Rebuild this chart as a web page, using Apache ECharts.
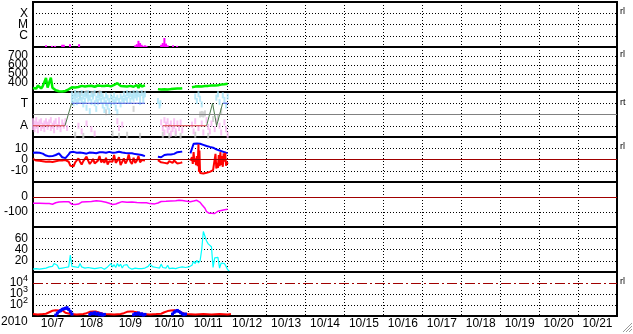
<!DOCTYPE html>
<html>
<head>
<meta charset="utf-8">
<script src="https://cdn.jsdelivr.net/npm/echarts@6/dist/echarts.min.js"></script>
<style>
  html, body { margin: 0; padding: 0; background: #fff; }
  #main { width: 633px; height: 334px; }
</style>
</head>
<body>
<div id="main"></div>
<script>
// x axis: hours since 2010-10-07 00:00, 15 days shown
var days = ['10/7', '10/8', '10/9', '10/10', '10/11', '10/12', '10/13', '10/14',
  '10/15', '10/16', '10/17', '10/18', '10/19', '10/20', '10/21'];

// X-ray flares (C / M / X class levels)
var flareT = [8, 11.7, 13.6, 18, 19, 22.8, 28.4, 63, 64, 65, 66, 67, 68, 69, 70, 79, 80, 81, 82, 83, 86.3, 88.8];
var flareV = [0.15, 0.1, 0.1, 0.2, 0.2, 0.25, 0.25, 0.15, 0.25, 0.55, 0.35, 0.2, 0.1, 0.15, 0.1, 0.2, 0.35, 0.8, 0.3, 0.15, 0.15, 0.1];

// solar wind speed, hourly from hour 0
var speed = [345, 360, 338, 372, 350, 340, 365, 345, 455, 350, 340, 460, 348, 335, 320, 312, 308, 310, 306, 308,
  312, 318, 330, 340, 352, 358, 350, 362, 355, 360, 368, 358, 362, 355, 366, 360, 370, 362, 358, 366,
  372, 364, 368, 375, 366, 360, 372, 368, 362, 370, 378, 370, 398, 380, 368, 372, 365, 370, 362, 375,
  368, 372, 358, 340, 378, 345, 385, 360, 380, 375, null, null, null, null, null, null, null, 332, 325, 328,
  322, 330, 325, 328, 322, 332, 328, 335, 330, 338, 335, 340, 342, null, null, null, null, null, 352, 358,
  360, 355, 364, 368, 362, 360, 366, 370, 368, 365, 372, 375, 372, 378, 376, 380, 382, 378, 385, 388, 392];

// IMF sector: A = -1, T = +1
var sectA = [[0, -1], [19.7, -1], [19.8, null], [80, -1], [107, -1]];
var sectT = [[23.8, 1], [69, 1], [69.1, null], [116.9, 1], [120.4, 1]];
var sectX = [[19.7, -1], [23.8, 1], [24, null], [107, -1], [110.7, 1], [113.2, -1], [116.9, 1]];
var sectBlue = [[24, 1.8], [24, 1.3], [25, 1.6], [25, 1.0], [26, 1.9], [26, 1.4], [27, 1.7], [27, 1.1], [28, 1.8], [28, 1.2],
  [29, 1.5], [30, 1.9], [30, 1.3], [31, 1.6], [31, 0.9], [32, 1.8], [32, 1.2], [33, 1.7], [33, 0.6], [34, 1.9], [34, 1.4],
  [35, 1.5], [35, 0.3], [36, 1.8], [36, 1.1], [37, 1.6], [38, 1.9], [38, 1.0], [39, 1.4], [39, 0.5], [40, 1.7], [40, 1.1],
  [41, 1.5], [42, 1.8], [42, 1.2], [43, 1.6], [43, 0.8], [44, 1.3], [44, 0.4], [45, 1.7], [45, 1.0], [46, 1.5], [46, 0.7],
  [47, 1.2], [47, 0.3], [48, 1.6], [48, 0.9], [49, 1.4], [50, 1.7], [50, 1.1], [51, 1.3], [51, 0.6], [52, 1.5], [52, 0.2],
  [53, 1.2], [54, 1.6], [54, 0.9], [55, 1.4], [56, 1.8], [56, 1.2], [57, 1.5], [58, 1.9], [58, 1.3], [59, 1.7], [60, 1.8],
  [60, 1.2], [61, 1.6], [62, 1.9], [62, 1.4], [63, 1.7], [64, 1.9], [64, 1.5], [65, 1.8], [66, 1.6], [66, 1.1], [67, 1.9],
  [68, 1.7], [68, 1.3], [69, 1.8], [77, 1.2], [78, 0.8], [78.5, 1.0], [100, 1.6], [101, 1.2], [102, 1.8], [103, 1.4],
  [104, 0.9], [113, 1.5], [114, 1.8], [115, 1.1], [117, 1.7], [118, 1.3], [119, 0.8], [120, 1.6]];
var sectPink = [[0, -0.6], [0, -1.1], [1, -0.8], [1, -1.3], [2, -0.5], [2, -1.0], [3, -0.9], [3, -1.4], [4, -0.7], [5, -1.2],
  [5, -0.6], [6, -1.0], [7, -0.8], [7, -1.3], [8, -0.6], [9, -1.1], [9, -0.9], [10, -0.7], [11, -1.2], [11, -0.5], [12, -1.0],
  [13, -0.8], [13, -1.4], [14, -0.6], [15, -1.1], [16, -0.9], [16, -0.5], [17, -1.3], [18, -0.7], [19, -1.0], [20, -0.6],
  [21, -1.2], [28, -1.0], [30, -1.5], [33, -0.8], [36, -1.3], [38, -1.7], [52, -0.6], [53, -1.2], [55, -0.9], [79, -0.7],
  [80, -1.2], [81, -0.5], [81, -1.6], [82, -0.9], [83, -1.4], [83, -0.6], [84, -1.1], [85, -1.7], [85, -0.8], [86, -1.3],
  [87, -0.6], [87, -1.0], [88, -1.5], [89, -0.8], [90, -1.2], [91, -0.7], [92, -1.4], [98, -0.9], [99, -1.5], [100, -0.6],
  [102, -1.2], [104, -0.8], [105, -1.6], [107, -0.5], [108, -1.1], [109, -1.5], [110, -0.8], [112, -1.3], [113, -0.6],
  [115, -1.0], [116, -1.6], [118, -0.7], [119, -1.3], [120, -1.8]];
var sectGray = [[26, 1.9], [29, 1.7], [33, 1.9], [37, 1.8], [41, 1.9], [26, -1.8], [31, -1.9], [45, 0.2], [49, -1.7], [53, -1.9],
  [58, -1.8], [62, 0.5], [66, -1.9], [80, -1.8], [84, -1.9], [88, -1.7], [91, -1.9], [103, 0.0], [104, 0.05], [105, 0.0],
  [106, 0.1], [111, -0.4], [114, -0.3], [116, 0.3], [100, -1.8], [108, -1.9]];

// IMF Bt (blue) and Bz (red), nT, hourly from hour 0
var bt = [6.0, 5.8, 6.2, 5.5, 6.0, 5.6, 5.2, 4.8, 3.5, 3.0, 2.8, 2.5, 3.0, 3.2, 4.0, 5.0, 5.5, 4.5, 2.0, 1.5,
  1.2, 2.0, 4.5, 6.5, 7.0, 6.8, 6.5, 6.0, 5.8, 6.2, 6.0, 5.8, 5.5, 5.2, 5.8, 6.2, 6.5, 6.0, 5.8, 5.5,
  6.0, 6.4, 6.8, 6.5, 6.2, 6.0, 6.6, 6.8, 6.4, 6.0, 5.8, 6.2, 6.6, 6.9, 6.5, 6.2, 6.0, 5.8, 6.2, 5.6,
  5.2, 5.5, 5.0, 4.8, 5.2, 4.5, 4.2, 4.0, 3.5, 3.0, null, null, null, null, null, null, null, 2.5, 3.0, 2.0,
  3.5, 4.0, 3.0, 4.5, 5.0, 4.5, 5.5, 5.0, 6.0, 6.5, 6.0, 6.8, 7.0, null, null, null, null, 5.5, 5.8, 14.0,
  14.5, 14.2, 13.8, 14.0, 13.5, 13.0, 12.5, 12.0, 11.8, 11.2, 10.8, 10.5, 9.8, 9.0, 8.5, 8.0, 7.5, 7.0, 6.5, 6.0, 5.8];
var bz = [0.5, -0.5, -1.0, -0.3, -1.2, -0.8, -1.5, -1.0, -2.0, -2.5, -1.8, -3.0, -2.2, -2.8, -1.5, -0.5, -1.0, -0.2, -0.8, 0.5,
  -0.5, -1.0, -2.0, -5.5, -4.0, -6.0, -2.5, -3.5, 1.0, -2.0, -4.5, -1.5, -3.0, 2.5, -1.0, -4.0, -2.0, 0.5, -3.5, -5.0,
  -1.0, 3.0, -2.5, -0.5, -3.0, 1.5, -4.5, -1.5, 0.0, -2.0, 4.0, -3.0, -1.0, 2.0, -5.0, -2.0, 1.0, -3.5, -1.0, 4.5,
  -2.0, -4.0, 1.5, -3.0, -1.0, 3.0, -2.5, -0.5, -1.5, -1.0, null, null, null, null, null, null, null, -0.5, -1.5, -2.5,
  -1.0, -3.0, -2.0, -3.5, -1.5, -2.5, -3.0, -1.0, -2.5, -3.5, -2.0, -3.0, -2.5, null, null, null, null];
var bzStormT = [97, 98, 98.5, 99, 99.5, 100, 100.5, 101, 101.5, 102, 102.3, 102.6, 103, 104, 105, 106, 107, 108, 109, 110,
  111, 112, 112.5, 113, 113.5, 114, 114.5, 115, 115.5, 116, 116.5, 117, 117.5, 118, 118.5, 119, 119.5, 120];
var bzStormV = [-1, 2, -4, 6.5, -2, 1, -5, 3, -6, 13.5, -11, 8, -12, -12, -12.5, -12, -11.8, -11.2, -11, -10.5,
  -9.5, -8.5, 5, -8, -3, -7.5, 4, -6, 6.5, -5, 3, -6.5, 5.5, -2, 6, -5.5, -2, -4];

// Dst index, nT
var dstT = [0, 4, 8, 10, 12, 13, 14, 16, 19, 22, 23, 24, 26, 28, 30, 33, 36, 39, 40, 42, 45, 47, 49, 51, 53, 55, 58, 61,
  64, 67, 70, 72, 75, 77, 79, 82, 85, 88, 90, 92, 94, 97, 99, 101, 102, 103, 104, 105, 106, 107, 107.5, 108, 108.5, 109,
  110, 110.5, 111, 112, 113, 114, 115, 116, 117, 118, 119, 120];
var dstV = [-42, -42, -43, -44, -48, -45, -38, -33, -32, -31, -36, -49, -50, -47, -34, -32, -30, -25, -23, -28, -35, -42, -50,
  -47, -38, -31, -35, -33, -36, -38, -38, -44, -46, -40, -30, -29, -27, -25, -21, -23, -27, -31, -27, -22, -23, -36, -50,
  -60, -75, -98, -90, -85, -108, -100, -108, -95, -118, -110, -98, -95, -92, -90, -90, -85, -84, -82];

// cyan index, hourly from hour 0
var cyanV = [5, 4, 6, 3, 5, 4, 6, 5, 7, 8, 9, 7, 10, 15, 16, 12, 6, 5, 7, 6, 8, 5, 9, 30, 10,
  8, 9, 7, 8, 15, 9, 6, 7, 5, 8, 6, 7, 9, 6, 5, 7, 6, 8, 7, 5, 6, 9, 7, 15, 9, 13, 8, 15, 10,
  14, 7, 12, 9, 13, 8, 6, 5, 6, 7, 5, 6, 9, 6, 5, 7, 6, 10, 14, 15, 9, 12, 8, 6, 7, 14, 8, 6,
  7, 12, 6, 8, 7, 9, 6, 7, 8, 6, 9, 7, 8, 6, 9, 9, 12, 19, 15, 21, 16, 20, 40, 72, 72, 55, 50,
  50, 45, 8, 25, 27, 26, 7, 16, 18, 15, 10, 4, 2];

// particle flux (log), red line and blue points
var fluxRedT = [0, 3, 6, 8, 10, 12, 14, 16, 18, 19, 20, 21, 23, 27, 31, 33, 35, 37, 39, 41, 43, 45, 50, 54, 56, 58, 60,
  62, 64, 66, 68, 72, 76, 79, 81, 83, 85, 87, 89, 91, 93, 95, 100, 105, 110, 115, 120, 122];
var fluxRedV = [15, 14, 15, 16, 22, 30, 33, 31, 34, 28, 20, 16, 15, 14, 15, 18, 24, 26, 25, 20, 16, 15, 14, 15, 18, 24, 26,
  25, 22, 17, 15, 14, 15, 16, 22, 28, 32, 33, 30, 22, 17, 15, 14, 15, 14, 15, 14, 15];
var fluxBlueT = [14, 15, 16, 17, 18, 19, 20, 21, 22, 23, 24, null, 35, 36, 37, 38, 39, 40, 41, 42, 43, 44, null,
  62, 63, 64, 65, 66, 67, 68, 69, null, 86, 87, 88, 89, 90, 91, 92, 93, 94];
var fluxBlueV = [12, 18, 25, 30, 40, 45, 50, 57, 40, 25, 15, null, 14, 18, 16, 20, 15, 18, 13, 16, 12, 14, null,
  13, 17, 15, 19, 14, 16, 12, 14, null, 15, 22, 28, 32, 26, 20, 16, 13, 15];

var FONT = '"Liberation Sans", Arial, sans-serif';
var myChart = echarts.init(document.getElementById('main'));

function hourly(vals) {
  return vals.map(function (v, i) { return [i, v === null ? '-' : v]; });
}
function zip(t, v) {
  return t.map(function (h, i) { return [h === null ? '-' : h, v[i] === null ? '-' : v[i]]; });
}
function pts(arr) {
  return arr.map(function (p) { return [p[0], p[1] === null ? '-' : p[1]]; });
}

var bzData = hourly(bz).concat(zip(bzStormT, bzStormV));

// panel tops / heights
var panelTop = [2, 47, 92, 137, 182, 227, 272];
var panelH = [45, 45, 45, 45, 45, 45, 44];

var grids = [], xAxes = [];
for (var i = 0; i < 7; i++) {
  grids.push({
    left: 33, right: 16, top: panelTop[i], height: panelH[i],
    show: true, borderColor: '#000', borderWidth: 2, backgroundColor: 'transparent'
  });
  xAxes.push({
    gridIndex: i, type: 'value', min: 0, max: 360, interval: 24,
    axisLine: { show: false }, axisTick: { show: false },
    axisLabel: {
      show: i === 6, color: '#000', fontSize: 12, fontFamily: FONT, margin: 2,
      customValues: days.map(function (d, k) { return 12 + 24 * k; }),
      formatter: function (v) { return days[Math.round((v - 12) / 24)] || ''; }
    },
    splitLine: { show: true, lineStyle: { color: '#000', type: [1, 2], width: 1 } }
  });
}

var T = 'transparent';
function yAx(i, min, max, interval, lines, fmt) {
  return {
    gridIndex: i, type: 'value', min: min, max: max, interval: interval,
    axisLine: { show: false }, axisTick: { show: false },
    axisLabel: { color: '#000', fontSize: 12, fontFamily: FONT, margin: 5, formatter: fmt },
    splitLine: { show: true, lineStyle: { color: lines, type: [1, 2], width: 1 } }
  };
}
var yAxes = [
  yAx(0, 0, 4, 1, [T, '#000', '#000', '#000', T], function (v) { return ({ 1: 'C', 2: 'M', 3: 'X' })[v] || ''; }),
  yAx(1, 300, 800, 100, [T, '#000', '#000', '#000', '#000', T], function (v) { return (v >= 400 && v <= 700) ? v : ''; }),
  yAx(2, -2, 2, 1, [T, '#000', T, '#000', T], function (v) { return v === 1 ? 'T' : (v === -1 ? 'A' : ''); }),
  yAx(3, -20, 20, 10, [T, '#000', T, '#000', T], function (v) { return Math.abs(v) <= 10 ? v : ''; }),
  yAx(4, -200, 100, 100, [T, '#000', T, T], function (v) { return (v === 0 || v === -100) ? v : ''; }),
  yAx(5, 0, 80, 20, [T, '#000', '#000', '#000', T], function (v) { return (v > 0 && v < 80) ? v : ''; }),
  {
    gridIndex: 6, type: 'log', logBase: 10, min: 10, max: 100000,
    axisLine: { show: false }, axisTick: { show: false },
    axisLabel: {
      color: '#000', fontSize: 12, fontFamily: FONT, margin: 5,
      formatter: function (v) {
        var p = Math.round(Math.log10(v));
        return (p >= 2 && p <= 4) ? '{b|10}{s|' + p + '}' : '';
      },
      rich: {
        b: { fontSize: 12, fontFamily: FONT, color: '#000' },
        s: { fontSize: 9, fontFamily: FONT, color: '#000', padding: [0, 0, 8, 0] }
      }
    },
    splitLine: { show: true, lineStyle: { color: [T, '#000', '#000', T, T], type: [1, 2], width: 1 } }
  }
];

function zeroLine(v, color, type) {
  return {
    silent: true, symbol: 'none', label: { show: false }, animation: false,
    lineStyle: { color: color, type: type || 'solid', width: 1 },
    data: [{ yAxis: v }]
  };
}

var series = [
  { type: 'bar', xAxisIndex: 0, yAxisIndex: 0, data: zip(flareT, flareV), barWidth: 2, itemStyle: { color: '#ff00ff' } },
  { type: 'line', xAxisIndex: 1, yAxisIndex: 1, data: hourly(speed), showSymbol: false,
    lineStyle: { color: '#00f000', width: 2.5 }, itemStyle: { color: '#00f000' } },
  // sector panel
  { type: 'scatter', xAxisIndex: 2, yAxisIndex: 2, data: sectGray, symbol: 'rect', symbolSize: [2, 6], itemStyle: { color: '#c8c8c8' } },
  { type: 'scatter', xAxisIndex: 2, yAxisIndex: 2, data: sectBlue, symbol: 'rect', symbolSize: [2, 6], itemStyle: { color: '#a8e4f8' } },
  { type: 'scatter', xAxisIndex: 2, yAxisIndex: 2, data: sectPink, symbol: 'rect', symbolSize: [2, 6], itemStyle: { color: '#f8b4f0' } },
  { type: 'line', xAxisIndex: 2, yAxisIndex: 2, data: pts(sectA), showSymbol: false,
    lineStyle: { color: '#d83838', width: 1 }, markLine: zeroLine(0, '#808080') },
  { type: 'line', xAxisIndex: 2, yAxisIndex: 2, data: pts(sectT), showSymbol: false, lineStyle: { color: '#4858e0', width: 1 } },
  { type: 'line', xAxisIndex: 2, yAxisIndex: 2, data: pts(sectX), showSymbol: false, lineStyle: { color: '#4a7a4a', width: 1 } },
  // IMF
  { type: 'line', xAxisIndex: 3, yAxisIndex: 3, data: hourly(bt), showSymbol: false, lineStyle: { color: '#0000ff', width: 2 } },
  { type: 'line', xAxisIndex: 3, yAxisIndex: 3, data: bzData, showSymbol: false,
    lineStyle: { color: '#ff0000', width: 2 }, markLine: zeroLine(0, '#a00000') },
  // Dst
  { type: 'line', xAxisIndex: 4, yAxisIndex: 4, data: zip(dstT, dstV), showSymbol: false,
    lineStyle: { color: '#ff00ff', width: 1.5 }, markLine: zeroLine(0, '#a00000') },
  // cyan
  { type: 'line', xAxisIndex: 5, yAxisIndex: 5, data: hourly(cyanV), showSymbol: false, lineStyle: { color: '#00ffff', width: 1.2 } },
  // flux
  { type: 'line', xAxisIndex: 6, yAxisIndex: 6, data: zip(fluxRedT, fluxRedV), showSymbol: false,
    lineStyle: { color: '#ff0000', width: 2 }, markLine: zeroLine(10000, '#a00000', [10, 3, 2, 3]) },
  { type: 'line', xAxisIndex: 6, yAxisIndex: 6, data: zip(fluxBlueT, fluxBlueV), symbol: 'rect', symbolSize: 3,
    showAllSymbol: true, lineStyle: { color: '#0000ff', width: 2 }, itemStyle: { color: '#0000ff' } }
];

var tagY = [12, 55, 103, 147, 282];
var tagTxt = ['rl', 'rl', 'rt', 'rl', 'rl'];
var graphics = [
  { type: 'text', left: 1, top: 316, style: { text: '2010', font: '12px ' + FONT, fill: '#000' } }
];
tagY.forEach(function (y, k) {
  graphics.push({ type: 'text', x: 620, y: y, style: { text: tagTxt[k], font: '9px ' + FONT, fill: '#000', verticalAlign: 'middle' } });
});
[[632, 323, 623, 332], [632, 326, 626, 332], [632, 329, 629, 332]].forEach(function (l) {
  graphics.push({ type: 'line', shape: { x1: l[0], y1: l[1], x2: l[2], y2: l[3] }, style: { stroke: '#999', lineWidth: 1 } });
});

option = {
  animation: false,
  backgroundColor: '#fff',
  textStyle: { fontFamily: FONT },
  grid: grids,
  xAxis: xAxes,
  yAxis: yAxes,
  series: series,
  graphic: graphics
};
myChart.setOption(option);
</script>
</body>
</html>
